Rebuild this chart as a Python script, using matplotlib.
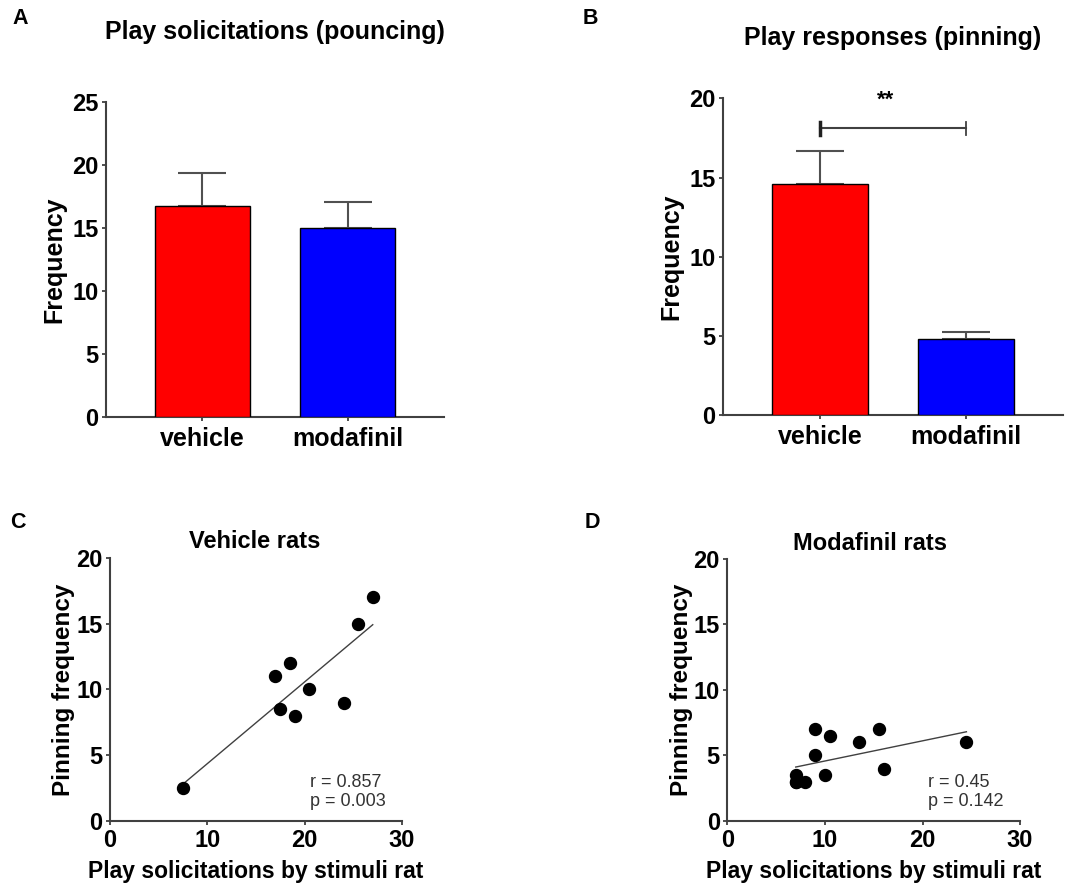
import numpy as np
import matplotlib.pyplot as plt

plt.rcParams['font.family'] = ['Liberation Sans', 'DejaVu Sans']

# ---------------------------------------------------
# Data
# ---------------------------------------------------
groups = ["vehicle", "modafinil"]
bar_colors = ["#ff0000", "#0000ff"]

pouncing_mean = [16.75, 15.0]
pouncing_sem = [2.6, 2.05]

pinning_mean = [14.6, 4.8]
pinning_sem = [2.1, 0.45]
sig_level = 18.1
sig_text = "**"

veh_x = [7.5, 17, 18.5, 17.5, 19, 20.5, 24, 25.5, 27]
veh_y = [2.5, 11, 12, 8.5, 8, 10, 9, 15, 17]
veh_stats = "r = 0.857\np = 0.003"

mod_x = [7, 7, 7, 8, 9, 9, 10, 10.5, 13.5, 15.5, 16, 24.5]
mod_y = [3.5, 3, 3, 3, 7, 5, 3.5, 6.5, 6, 7, 4, 6]
mod_stats = "r = 0.45\np = 0.142"

spine_col = "#404040"
tick_fs = 17
label_fs = 18

fig = plt.figure(figsize=(10.75, 8.86), dpi=100)


def style_axes(ax):
    for s in ["top", "right"]:
        ax.spines[s].set_visible(False)
    for s in ["left", "bottom"]:
        ax.spines[s].set_color(spine_col)
        ax.spines[s].set_linewidth(1.5)
    ax.tick_params(direction="out", length=3, width=1.3, color=spine_col,
                   labelsize=tick_fs, pad=2.5)
    for lab in ax.get_xticklabels() + ax.get_yticklabels():
        lab.set_fontweight("bold")


def bar_panel(rect, means, sems, ymax, ystep):
    ax = fig.add_axes(rect)
    x = np.arange(len(groups))
    ax.bar(x, means, width=0.66, color=bar_colors, edgecolor="black",
           linewidth=1.0, zorder=3)
    ax.errorbar(x, means, yerr=[np.zeros(len(sems)), sems], fmt="none",
                ecolor="#505050", elinewidth=1.5, capsize=17, capthick=1.5,
                zorder=2)
    ax.set_xlim(-0.665, 1.665)
    ax.set_ylim(0, ymax)
    ax.set_yticks(np.arange(0, ymax + 0.1, ystep))
    ax.set_xticks(x)
    ax.set_xticklabels(groups)
    ax.set_ylabel("Frequency", fontsize=label_fs, fontweight="bold", labelpad=4)
    style_axes(ax)
    ax.tick_params(axis="x", pad=4)
    for lab in ax.get_xticklabels():
        lab.set_fontsize(label_fs)
    return ax


def scatter_panel(rect, xs, ys, stats):
    ax = fig.add_axes(rect)
    ax.plot(xs, ys, "o", color="black", markersize=8.6, zorder=3, clip_on=False)
    k, b = np.polyfit(xs, ys, 1)
    xl = np.array([min(xs), max(xs)])
    ax.plot(xl, k * xl + b, color="#404040", linewidth=1.0)
    ax.set_xlim(0, 30)
    ax.set_ylim(0, 20)
    ax.set_xticks([0, 10, 20, 30])
    ax.set_yticks([0, 5, 10, 15, 20])
    ax.set_xlabel("Play solicitations by stimuli rat", fontsize=16.5,
                  fontweight="bold", labelpad=6)
    ax.set_ylabel("Pinning frequency", fontsize=17.5, fontweight="bold",
                  labelpad=0.5)
    ax.text(0.685, 0.041, stats, transform=ax.transAxes, fontsize=13,
            color="#333333", linespacing=1.15, va="bottom", ha="left")
    style_axes(ax)
    return ax


# A
axA = bar_panel([0.0986, 0.5293, 0.3144, 0.3556], pouncing_mean, pouncing_sem, 25, 5)
fig.text(0.256, 1 - 32 / 886, "Play solicitations (pouncing)", ha="center",
         va="center", fontsize=18, fontweight="bold")
fig.text(20 / 1075, 1 - 18 / 886, "A", ha="center", va="center", fontsize=15.5,
         fontweight="bold")

# B
axB = bar_panel([0.6726, 0.5316, 0.3163, 0.3574], pinning_mean, pinning_sem, 20, 5)
axB.plot([0, 1], [sig_level, sig_level], color="#404040", linewidth=1.5)
axB.plot([0, 0], [sig_level - 0.4, sig_level + 0.4], color="#202020", linewidth=2.5)
axB.plot([1, 1], [sig_level - 0.4, sig_level + 0.4], color="#404040", linewidth=1.3)
axB.text(0.45, sig_level + 1.15, sig_text, ha="center", va="bottom",
         fontsize=16, fontweight="bold")
fig.text(893 / 1075, 1 - 38 / 886, "Play responses (pinning)", ha="center",
         va="center", fontsize=18, fontweight="bold")
fig.text(590 / 1075, 1 - 18 / 886, "B", ha="center", va="center", fontsize=15.5,
         fontweight="bold")

# C
axC = scatter_panel([0.1023, 0.0734, 0.2716, 0.2968], veh_x, veh_y, veh_stats)
fig.text(255 / 1075, 1 - 541 / 886, "Vehicle rats", ha="center", va="center",
         fontsize=17, fontweight="bold")
fig.text(18 / 1075, 1 - 523 / 886, "C", ha="center", va="center", fontsize=15.5,
         fontweight="bold")

# D
axD = scatter_panel([0.6767, 0.0734, 0.2722, 0.296], mod_x, mod_y, mod_stats)
fig.text(870 / 1075, 1 - 543 / 886, "Modafinil rats", ha="center", va="center",
         fontsize=17, fontweight="bold")
fig.text(592 / 1075, 1 - 523 / 886, "D", ha="center", va="center", fontsize=15.5,
         fontweight="bold")

fig.savefig("out.png", dpi=100)
